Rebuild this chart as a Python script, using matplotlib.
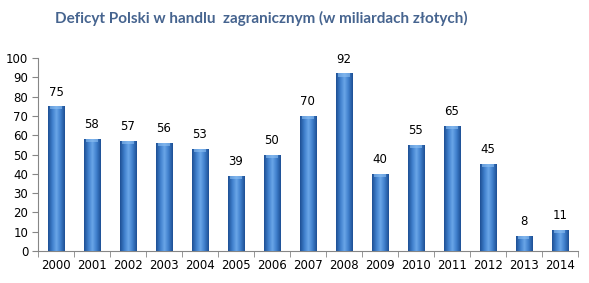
import matplotlib
matplotlib.use("Agg")
import matplotlib.pyplot as plt
import numpy as np
from matplotlib.colors import LinearSegmentedColormap

years = ["2000", "2001", "2002", "2003", "2004", "2005", "2006", "2007",
         "2008", "2009", "2010", "2011", "2012", "2013", "2014"]
deficit = [75, 58, 57, 56, 53, 39, 50, 70, 92, 40, 55, 65, 45, 8, 11]
title = "Deficyt Polski w handlu  zagranicznym (w miliardach złotych)"

fig = plt.figure(figsize=(5.89, 2.83), dpi=100)
ax = fig.add_axes([0.0645, 0.113, 0.9165, 0.682])

x = np.arange(len(years))
width = 0.45
bars = ax.bar(x, deficit, width=width, color="#3A72BE", zorder=2)

cmap = LinearSegmentedColormap.from_list(
    "g", ["#1E4F94", "#3E7ECB", "#6AA6E8", "#3E7ECB", "#1E4F94"])
grad = np.linspace(0, 1, 64).reshape(1, -1)
for b in bars:
    bx, by = b.get_x(), b.get_y()
    w, h = b.get_width(), b.get_height()
    im = ax.imshow(grad, cmap=cmap, aspect="auto",
                   extent=(bx, bx + w, by, by + h), zorder=3)
    im.set_clip_path(b)
    capH = min(1.6, h * 0.3)
    ax.fill_between([bx + w * 0.15, bx + w * 0.85], by + h - capH, by + h,
                    color="#8EC0F2", alpha=0.6, zorder=4, linewidth=0)

for xi, v in zip(x, deficit):
    ax.text(xi, v + 4, str(v), ha="center", va="bottom", fontsize=8.5,
            color="#000000")

ax.set_xlim(-0.5, len(years) - 0.5)
ax.set_ylim(0, 100)
ax.set_yticks(range(0, 101, 10))
ax.set_xticks(x)
ax.set_xticklabels(years, fontsize=8.5)
ax.tick_params(axis="x", length=0, pad=6)
ax.set_xticks(np.arange(-0.5, len(years), 1), minor=True)
ax.tick_params(axis="x", which="minor", length=4, direction="out", color="#868686")
ax.tick_params(axis="y", labelsize=8.5, length=4, direction="out", color="#868686", pad=3)
for s in ["top", "right"]:
    ax.spines[s].set_visible(False)
for s in ["left", "bottom"]:
    ax.spines[s].set_color("#868686")
    ax.spines[s].set_linewidth(0.8)

fig.text(0.443, 0.935, title, ha="center", va="center", fontsize=11,
         fontweight="bold", color="#46648F", family=["Lato", "DejaVu Sans"])

fig.savefig("out.png", dpi=100)
